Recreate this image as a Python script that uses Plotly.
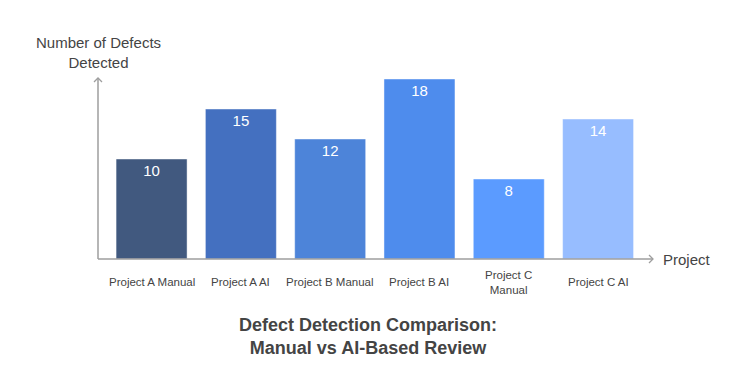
import plotly.graph_objects as go

categories = ["Project A Manual", "Project A AI", "Project B Manual", "Project B AI", "Project C Manual", "Project C AI"]
tick_labels = ["Project A Manual", "Project A AI", "Project B Manual", "Project B AI", "Project C<br>Manual", "Project C AI"]
defects = [10, 15, 12, 18, 8, 14]
colors = ["#41597f", "#4470c0", "#4d84d9", "#4e8ced", "#5b9bff", "#97bdff"]

W, H = 735, 377
L, T = 90, 70
pw, ph = 555, 181
R, B = W - L - pw, H - T - ph

xs = list(range(len(categories)))
fig = go.Figure(go.Bar(
    x=xs, y=defects, width=0.795,
    marker=dict(color=colors, line=dict(color="rgba(255,255,255,0.45)", width=1)),
    text=[str(v) for v in defects], textposition="inside", insidetextanchor="end",
    textfont=dict(color="white", size=15, family="Liberation Sans, Arial"),
    constraintext="none", hoverinfo="skip",
))

grey = "#9e9e9e"
fig.update_layout(
    width=W, height=H, margin=dict(l=L, r=R, t=T, b=B),
    paper_bgcolor="white", plot_bgcolor="white", showlegend=False,
    font=dict(family="Liberation Sans, Arial", color="#444"),
    xaxis=dict(range=[-0.6, 5.615], showticklabels=False, showgrid=False, zeroline=False,
               showline=False, ticks=""),
    yaxis=dict(range=[0, 18.1], showticklabels=False, showgrid=False, zeroline=False,
               showline=False, ticks=""),
)

# axis lines with open arrowheads (paper coordinates)
fig.add_shape(type="line", xref="paper", yref="paper", x0=0, y0=0, x1=0, y1=1,
              line=dict(color=grey, width=1.5))
fig.add_shape(type="line", xref="paper", yref="paper", x0=0, y0=0, x1=1, y1=0,
              line=dict(color=grey, width=1.5))
a = 4.0
fig.add_shape(type="path", xref="paper", yref="paper",
              path=f"M {-a/pw} {1-a/ph} L 0 1 L {a/pw} {1-a/ph}",
              line=dict(color=grey, width=1.3))
fig.add_shape(type="path", xref="paper", yref="paper",
              path=f"M {1-a/pw} {a/ph} L 1 0 L {1-a/pw} {-a/ph}",
              line=dict(color=grey, width=1.3))

# category labels
for x, lab in zip(xs, tick_labels):
    fig.add_annotation(x=x, y=0, xref="x", yref="paper", text=lab, showarrow=False,
                       yanchor="middle", yshift=-23, font=dict(size=11.5, color="#444"))

fig.add_annotation(x=0, y=1, xref="paper", yref="paper", text="Number of Defects<br>Detected",
                   showarrow=False, xanchor="center", yanchor="bottom", yshift=5,
                   font=dict(size=15, color="#444"))
fig.add_annotation(x=1, y=0, xref="paper", yref="paper", text="Project",
                   showarrow=False, xanchor="left", yanchor="middle", xshift=8,
                   font=dict(size=15, color="#444"))
fig.add_annotation(x=(360 - L) / pw, y=0, xref="paper", yref="paper",
                   text="<b>Defect Detection Comparison:<br>Manual vs AI-Based Review</b>",
                   showarrow=False, xanchor="center", yanchor="middle", yshift=-77,
                   font=dict(size=18, color="#444"))

fig.write_html("out.html")
